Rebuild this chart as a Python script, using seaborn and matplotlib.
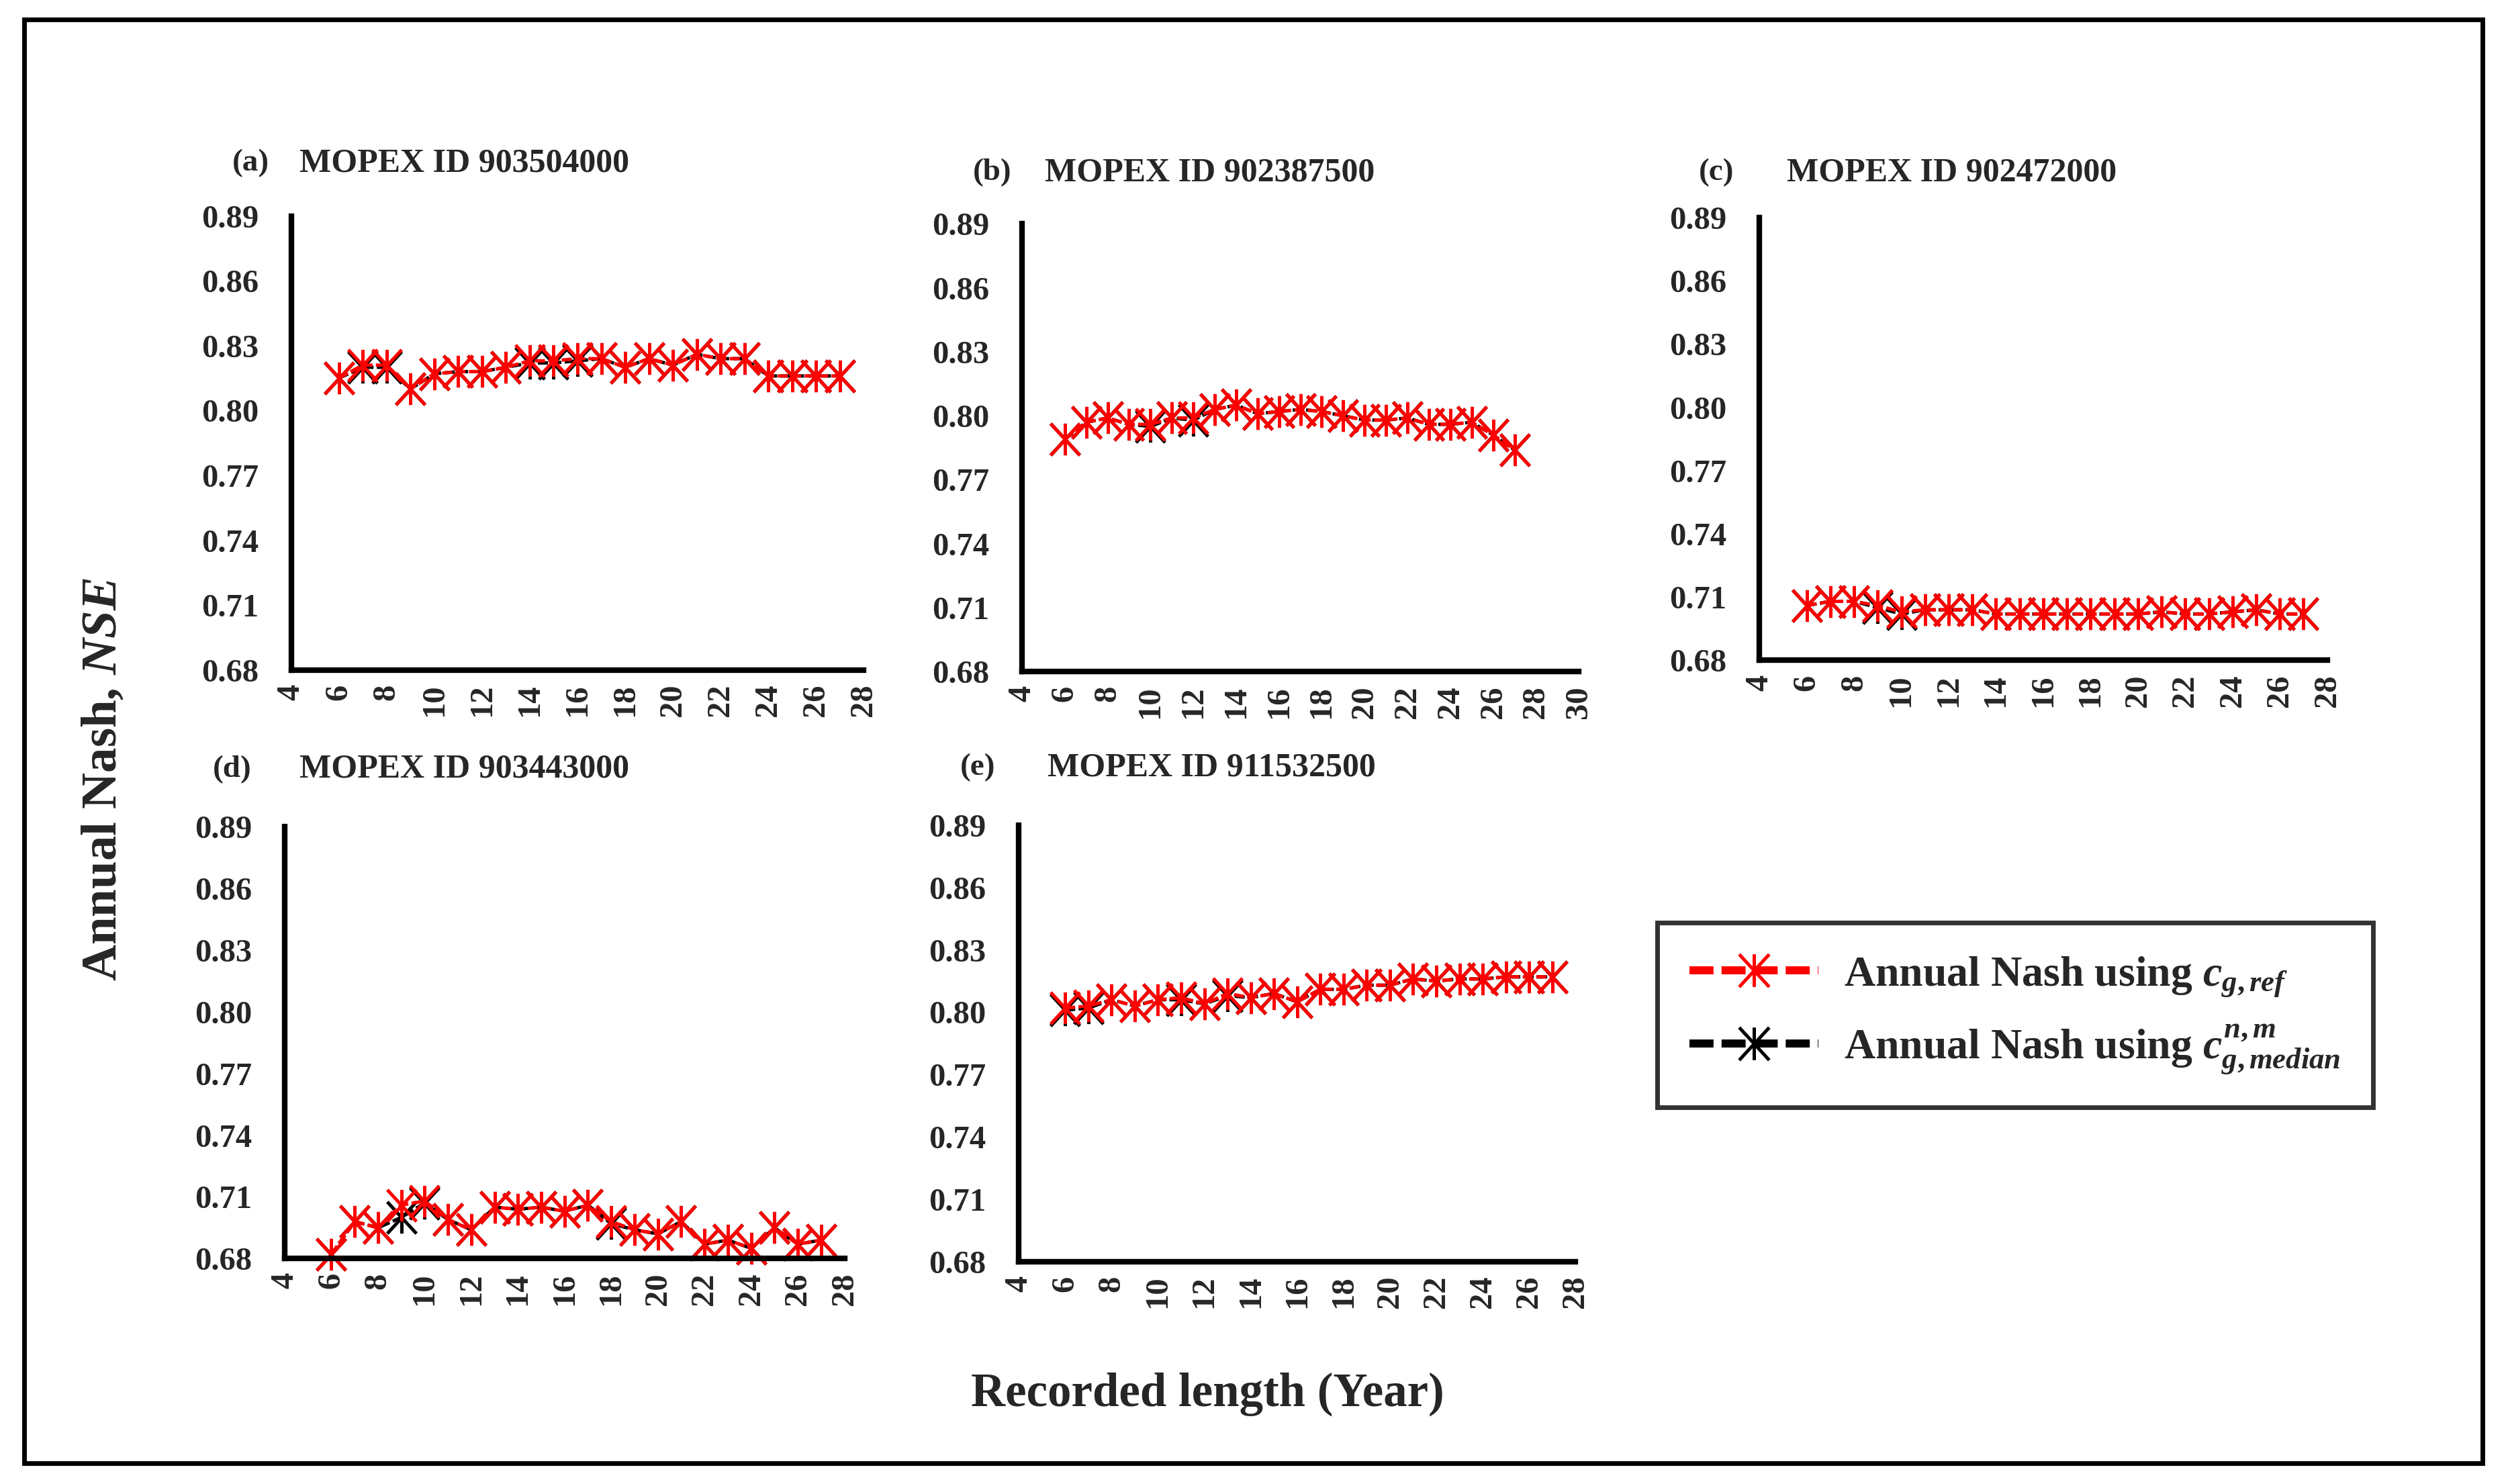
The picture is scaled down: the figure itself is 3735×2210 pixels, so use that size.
import seaborn as sns
import matplotlib.pyplot as plt
import pandas as pd
from matplotlib.path import Path
from matplotlib.lines import Line2D
from matplotlib.patches import Rectangle

# record lengths (years)
anos = list(range(6, 28))

# Annual Nash using c_g,ref (red) / c_g,median (black)
ref_a = [0.815, 0.821, 0.821, 0.810, 0.817, 0.818, 0.818, 0.820, 0.823, 0.823, 0.824, 0.824,
         0.820, 0.824, 0.821, 0.826, 0.824, 0.824, 0.816, 0.816, 0.816, 0.816]
med_a = [0.815, 0.820, 0.820, 0.810, 0.817, 0.818, 0.818, 0.820, 0.822, 0.822, 0.823, 0.824,
         0.820, 0.824, 0.821, 0.826, 0.824, 0.824, 0.816, 0.816, 0.816, 0.816]
ref_b = [0.789, 0.797, 0.799, 0.796, 0.796, 0.799, 0.799, 0.803, 0.805, 0.801, 0.802, 0.803,
         0.802, 0.800, 0.798, 0.798, 0.799, 0.796, 0.796, 0.797, 0.791, 0.784]
med_b = [0.789, 0.797, 0.799, 0.796, 0.795, 0.799, 0.798, 0.803, 0.805, 0.801, 0.802, 0.803,
         0.802, 0.800, 0.798, 0.798, 0.799, 0.796, 0.796, 0.797, 0.791, 0.784]
ref_c = [0.706, 0.708, 0.708, 0.706, 0.703, 0.704, 0.704, 0.704, 0.702, 0.702, 0.702, 0.702,
         0.702, 0.702, 0.702, 0.703, 0.702, 0.702, 0.703, 0.704, 0.702, 0.702]
med_c = [0.706, 0.708, 0.708, 0.705, 0.702, 0.704, 0.704, 0.704, 0.702, 0.702, 0.702, 0.702,
         0.702, 0.702, 0.702, 0.703, 0.702, 0.702, 0.703, 0.704, 0.702, 0.702]
ref_d = [0.682, 0.698, 0.695, 0.706, 0.708, 0.699, 0.694, 0.705, 0.704, 0.705, 0.703, 0.706,
         0.698, 0.694, 0.692, 0.698, 0.687, 0.689, 0.685, 0.695, 0.687, 0.689]
med_d = [0.682, 0.698, 0.695, 0.700, 0.707, 0.699, 0.694, 0.705, 0.704, 0.705, 0.703, 0.706,
         0.697, 0.694, 0.692, 0.698, 0.687, 0.689, 0.685, 0.695, 0.687, 0.689]
ref_e = [0.802, 0.803, 0.806, 0.803, 0.806, 0.807, 0.804, 0.809, 0.807, 0.809, 0.805, 0.811,
         0.811, 0.813, 0.813, 0.816, 0.815, 0.816, 0.816, 0.817, 0.817, 0.817]
med_e = [0.801, 0.802, 0.806, 0.803, 0.806, 0.806, 0.804, 0.808, 0.807, 0.809, 0.805, 0.811,
         0.811, 0.813, 0.813, 0.816, 0.815, 0.816, 0.816, 0.817, 0.817, 0.817]

letras = ['(a)', '(b)', '(c)', '(d)', '(e)']
ids = ['MOPEX ID 903504000', 'MOPEX ID 902387500', 'MOPEX ID 902472000',
       'MOPEX ID 903443000', 'MOPEX ID 911532500']
xmax = [28, 30, 28, 28, 28]
yticks = [0.68, 0.71, 0.74, 0.77, 0.80, 0.83, 0.86, 0.89]

sns.set_style('white')
plt.rcParams['font.family'] = ['Liberation Serif', 'DejaVu Serif']
plt.rcParams['font.weight'] = 'bold'
plt.rcParams['mathtext.fontset'] = 'custom'
plt.rcParams['mathtext.rm'] = 'Liberation Serif:bold'
plt.rcParams['mathtext.it'] = 'Liberation Serif:italic:bold'
plt.rcParams['mathtext.bf'] = 'Liberation Serif:bold'

# asterisco estilo Excel
estrela = Path([(0, -0.5), (0, 0.5), (-0.46, -0.5), (0.46, 0.5), (-0.46, 0.5), (0.46, -0.5)],
               [Path.MOVETO, Path.LINETO] * 3)

fig = plt.figure(figsize=(37.35, 22.10), dpi=100)

# posicoes dos paineis [left, bottom, width, height]
posicoes = [[0.1161, 0.5485, 0.2283, 0.3060],
            [0.4075, 0.5474, 0.2220, 0.3017],
            [0.7015, 0.5550, 0.2264, 0.2984],
            [0.1135, 0.1519, 0.2232, 0.2910],
            [0.4062, 0.1498, 0.2220, 0.2942]]
titulos_xy = [(0.0925, 0.1193, 0.890), (0.3878, 0.4165, 0.8836), (0.6773, 0.7124, 0.8836),
              (0.0848, 0.1193, 0.4817), (0.3827, 0.4177, 0.4828)]

series = [(ref_a, med_a), (ref_b, med_b), (ref_c, med_c), (ref_d, med_d), (ref_e, med_e)]

for i, (ref, med) in enumerate(series):
    ax = fig.add_axes(posicoes[i])
    df = pd.DataFrame({'ano': anos, 'ref': ref, 'med': med})
    for col, cor in [('med', 'black'), ('ref', 'red')]:
        sns.lineplot(data=df, x='ano', y=col, ax=ax, color=cor, lw=3.6,
                     linestyle=(0, (3, 1)), marker=estrela, markersize=34,
                     markeredgewidth=3.6, markeredgecolor=cor, markerfacecolor='none',
                     legend=False, clip_on=False)
    ax.set_xlim(4, xmax[i])
    ax.set_ylim(0.68, 0.89)
    ax.set_xticks(range(4, xmax[i] + 1, 2))
    ax.set_yticks(yticks)
    ax.set_yticklabels([f'{v:.2f}' for v in yticks])
    ax.set_xlabel('')
    ax.set_ylabel('')
    for s in ['top', 'right']:
        ax.spines[s].set_visible(False)
    for s in ['left', 'bottom']:
        ax.spines[s].set_linewidth(6)
        ax.spines[s].set_color('black')
    ax.tick_params(axis='both', direction='out', length=11, width=5, color='black',
                   labelsize=35)
    ax.tick_params(axis='y', pad=24)
    ax.tick_params(axis='x', pad=4, labelrotation=90)
    for lab in ax.get_xticklabels() + ax.get_yticklabels():
        lab.set_fontweight('bold')
    xl, xt, yt = titulos_xy[i]
    fig.text(xl, yt, letras[i], fontsize=34, fontweight='bold', va='center')
    fig.text(xt, yt, ids[i], fontsize=36, fontweight='bold', va='center')

fig.text(0.0415, 0.475, 'Annual Nash, $NSE$', fontsize=54, fontweight='bold',
         rotation=90, ha='center', va='center')
fig.text(0.4815, 0.0603, 'Recorded length (Year)', fontsize=51, fontweight='bold',
         ha='center', va='center')

# legenda
h_ref = Line2D([], [], color='red', lw=8.6, linestyle=(0, (3, 1)), marker=estrela,
               markersize=35, markeredgewidth=3.6, markeredgecolor='red', markerfacecolor='none')
h_med = Line2D([], [], color='black', lw=8.6, linestyle=(0, (3, 1)), marker=estrela,
               markersize=35, markeredgewidth=3.6, markeredgecolor='black', markerfacecolor='none')
leg = fig.legend([h_ref, h_med],
                 [r'Annual Nash using $c_{g,ref}$', r'Annual Nash using $c_{g,median}^{n,m}$'],
                 loc='center', bbox_to_anchor=(0.8035, 0.316), fontsize=46,
                 frameon=True, fancybox=False, edgecolor='black', handlelength=3.0,
                 handletextpad=0.6, labelspacing=0.55, borderpad=0.75, borderaxespad=0)
leg.get_frame().set_linewidth(5)

# moldura externa
fig.patches.append(Rectangle((0.0096, 0.014), 0.9802, 0.973, transform=fig.transFigure,
                             fill=False, edgecolor='black', lw=5))

plt.savefig('out.png', dpi=100)
